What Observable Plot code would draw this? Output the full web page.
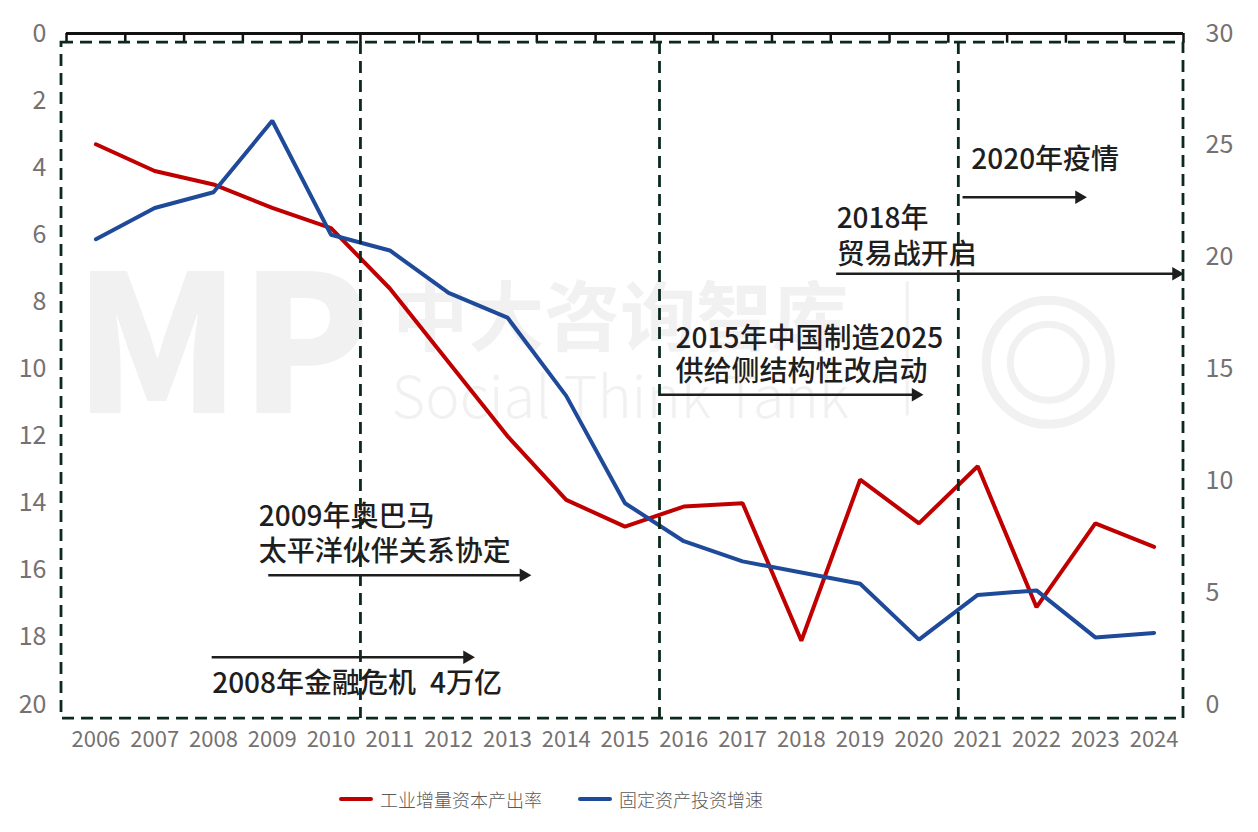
<!DOCTYPE html>
<html>
<head>
<meta charset="utf-8">
<script src="https://cdn.jsdelivr.net/npm/d3@7"></script>
<script src="https://cdn.jsdelivr.net/npm/@observablehq/plot@0.6"></script>
<style>
  body { margin: 0; background: #fff; font-family: "Noto Sans CJK SC", sans-serif; }
  #legend { position: relative; height: 62px; }
  .item { position: absolute; top: 0; height: 58px; display: flex; align-items: center; font-size: 18px; font-weight: 300; color: #595959; }
  .sw { width: 34px; height: 4px; border-radius: 2px; margin-right: 7px; }
</style>
</head>
<body>
<div id="chart"></div>
<div id="legend">
  <div class="item" style="left:339px"><span class="sw" style="background:#C00000"></span>工业增量资本产出率</div>
  <div class="item" style="left:578px"><span class="sw" style="background:#1F4A99"></span>固定资产投资增速</div>
</div>
<script>
// Years on the horizontal axis
const years = [2006, 2007, 2008, 2009, 2010, 2011, 2012, 2013, 2014, 2015, 2016, 2017, 2018, 2019, 2020, 2021, 2022, 2023, 2024];
// Incremental capital-output ratio (left axis, reversed)
const icor = [3.3, 4.1, 4.5, 5.2, 5.8, 7.6, 9.8, 12.0, 13.9, 14.7, 14.1, 14.0, 18.1, 13.3, 14.6, 12.9, 17.1, 14.6, 15.3];
// Fixed-asset investment growth, % (right axis)
const faiGrowth = [20.8, 22.2, 22.9, 26.1, 21.0, 20.3, 18.4, 17.3, 13.8, 9.0, 7.3, 6.4, 5.9, 5.4, 2.9, 4.9, 5.1, 3.0, 3.2];
const leftTicks = [0, 2, 4, 6, 8, 10, 12, 14, 16, 18, 20];
const rightTicks = [0, 5, 10, 15, 20, 25, 30];

// Right axis 0..30 shares the vertical space of the reversed left axis 0..20
const toLeft = v => 20 - v * 2 / 3;
const fromLeft = l => Math.round((20 - l) * 1.5);

const red = "#C00000", blue = "#1F4A99", dash = "#0B2A1C", ink = "#1E1E1E", tickGray = "#767171";
const wm = "#F1F1F1";

const seriesIcor = years.map((year, i) => ({year, value: icor[i]}));
const seriesFai = years.map((year, i) => ({year, value: toLeft(faiGrowth[i])}));
const bounds = d3.range(2005.5, 2025, 1);

// Event annotations: text lines and arrows (positions in year / left-axis units)
const notes = [
  {x: 2020.89, y: 3.76, text: "2020年疫情"},
  {x: 2018.6, y: 5.54, text: "2018年"},
  {x: 2018.6, y: 6.6, text: "贸易战开启"},
  {x: 2015.86, y: 9.12, text: "2015年中国制造2025"},
  {x: 2015.86, y: 10.1, text: "供给侧结构性改启动"},
  {x: 2008.77, y: 14.4, text: "2009年奥巴马"},
  {x: 2008.77, y: 15.47, text: "太平洋伙伴关系协定"},
  {x: 2007.978, y: 19.4, text: "2008年金融危机\u20024万亿"}
];
const arrows = [
  {x1: 2020.75, x2: 2022.85, y: 4.88},
  {x1: 2018.6, x2: 2024.5, y: 7.16},
  {x1: 2015.587, x2: 2020.07, y: 10.77},
  {x1: 2008.94, x2: 2013.40, y: 16.15},
  {x1: 2007.978, x2: 2012.44, y: 18.59}
];
const headBack = 0.125; // triangle centroid sits behind its tip

const chart = Plot.plot({
  width: 1258,
  height: 770,
  marginLeft: 66,
  marginRight: 75,
  marginTop: 33,
  marginBottom: 66,
  style: {fontFamily: "'Noto Sans CJK SC', sans-serif", background: "#fff"},
  x: {domain: [2005.5, 2024.5]},
  y: {domain: [0, 20], reverse: true},
  marks: [
    // faint watermark
    Plot.text(["MP"], {x: 2008.15, y: 9.5, text: d => d, fontSize: 190, fontWeight: 900, fill: wm, letterSpacing: -12}),
    Plot.text(["中大咨询智库"], {x: 2014.92, y: 8.55, text: d => d, fontSize: 76, fontWeight: 700, fill: wm, letterSpacing: 4}),
    Plot.text(["Social Think Tank"], {x: 2014.92, y: 10.9, text: d => d, fontSize: 58, fontWeight: 300, fill: wm}),
    Plot.ruleX([2019.8], {y1: 7.4, y2: 11.4, stroke: wm, strokeWidth: 3}),
    Plot.dot([{x: 2022.2, y: 9.8}], {x: "x", y: "y", r: 62, stroke: wm, strokeWidth: 9, fill: "none"}),
    Plot.dot([{x: 2022.2, y: 9.8}], {x: "x", y: "y", r: 38, stroke: wm, strokeWidth: 7, fill: "none"}),

    // axes
    Plot.axisY(leftTicks, {anchor: "left", tickSize: 0, tickPadding: 20, fontSize: 25, fill: tickGray, label: null}),
    Plot.axisY(rightTicks.map(toLeft), {anchor: "right", tickSize: 0, tickPadding: 22, fontSize: 25, fill: tickGray, label: null, tickFormat: fromLeft}),
    Plot.axisX(years, {anchor: "bottom", tickSize: 0, tickPadding: 27, fontSize: 22, fill: tickGray, label: null, tickFormat: d => String(d)}),
    Plot.ruleY([0], {x1: 2005.5, x2: 2024.5, stroke: "#111", strokeWidth: 3}),
    Plot.ruleX(bounds, {y1: 0, y2: 0.29, stroke: "#111", strokeWidth: 2.5}),

    // series
    Plot.line(seriesIcor, {x: "year", y: "value", stroke: red, strokeWidth: 4, strokeLinejoin: "miter"}),
    Plot.line(seriesFai, {x: "year", y: "value", stroke: blue, strokeWidth: 4, strokeLinejoin: "miter"}),

    // dashed period frames
    Plot.rect([{}], {x1: 2005.415, x2: 2024.5, y1: 0.27, y2: 20.42, fill: "none", stroke: dash, strokeWidth: 2.8, strokeDasharray: "12,7"}),
    Plot.ruleX([2010.5, 2015.587, 2020.67], {y1: 0.27, y2: 20.42, stroke: dash, strokeWidth: 2.8, strokeDasharray: "12,7"}),

    // annotations
    Plot.ruleY(arrows, {x1: "x1", x2: d => d.x2 - headBack, y: "y", stroke: ink, strokeWidth: 2.5}),
    Plot.dot(arrows, {x: d => d.x2 - headBack, y: "y", symbol: "triangle", r: 5, rotate: 90, fill: ink, stroke: "none"}),
    Plot.text(notes, {x: "x", y: "y", text: "text", textAnchor: "start", fontSize: 28, fontWeight: 500, fill: ink})
  ]
});
document.getElementById("chart").append(chart);
</script>
</body>
</html>
